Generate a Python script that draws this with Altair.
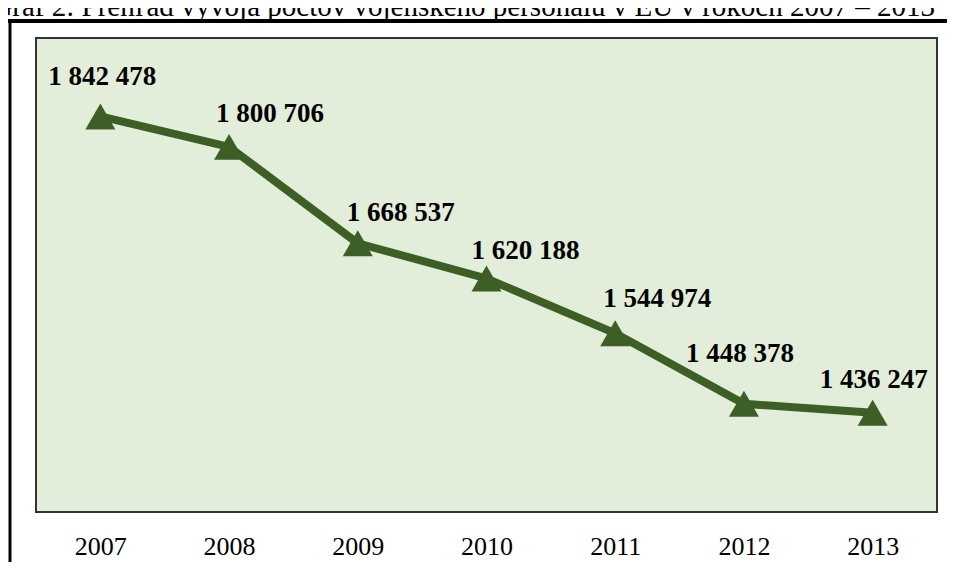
import altair as alt
import pandas as pd

years = ["2007", "2008", "2009", "2010", "2011", "2012", "2013"]
personnel = [1842478, 1800706, 1668537, 1620188, 1544974, 1448378, 1436247]
labels = ["1 842 478", "1 800 706", "1 668 537", "1 620 188", "1 544 974", "1 448 378", "1 436 247"]
title_text = "Graf 2: Prehľad vývoja počtov vojenského personálu v EÚ v rokoch 2007 – 2013"

# label placement (pixel offsets from the data point)
label_dx = [2, 41, 43, 39, 42, -4, 1]
label_dy = [-31, -25, -22, -20, -26, -42, -25]

df = pd.DataFrame({"year": years, "value": personnel, "label": labels})

GREEN = "#3D5E24"
FONT = "Liberation Serif"

x_enc = alt.X("year:O", sort=years,
              scale=alt.Scale(type="point", padding=0.5),
              axis=alt.Axis(title=None, domain=False, ticks=False, labelAngle=0,
                            labelFont=FONT, labelFontSize=26, labelColor="black",
                            labelPadding=21, grid=False))
y_enc = alt.Y("value:Q", scale=alt.Scale(domain=[1300000, 1950000], nice=False, zero=False),
              axis=None)

base = alt.Chart(df)

line = base.mark_line(color=GREEN, strokeWidth=8).encode(x=x_enc, y=y_enc)
pts = base.mark_point(shape="triangle-up", filled=True, size=900, color=GREEN, opacity=1).encode(x=x_enc, y=y_enc)

text_layers = []
for i, yr in enumerate(years):
    t = base.transform_filter(alt.datum.year == yr).mark_text(
        font=FONT, fontSize=27, fontWeight="bold", color="black",
        align="center", baseline="alphabetic", dx=label_dx[i], dy=label_dy[i]
    ).encode(x=x_enc, y=y_enc, text="label:N")
    text_layers.append(t)

dummy = alt.Chart(pd.DataFrame({"t": [title_text]}))
top_rule = dummy.mark_rule(color="black", strokeWidth=4).encode(
    x=alt.value(-28), x2=alt.value(915), y=alt.value(-17))
left_rule = dummy.mark_rule(color="black", strokeWidth=3).encode(
    x=alt.value(-26), y=alt.value(-19), y2=alt.value(530))
title = dummy.mark_text(font=FONT, fontSize=29, align="right", baseline="alphabetic",
                        color="black").encode(text="t:N", x=alt.value(899), y=alt.value(-22))

chart = alt.layer(line, pts, *text_layers, top_rule, left_rule, title).properties(
    width=901, height=474,
    padding={"left": 28, "top": 30, "right": 10, "bottom": 50},
    autosize=alt.AutoSizeParams(type="none"),
    background="white",
).configure_view(fill="#E2EED9", stroke="#333333", strokeWidth=2)

chart.save("out.html", embed_options={"renderer": "svg", "actions": False})
